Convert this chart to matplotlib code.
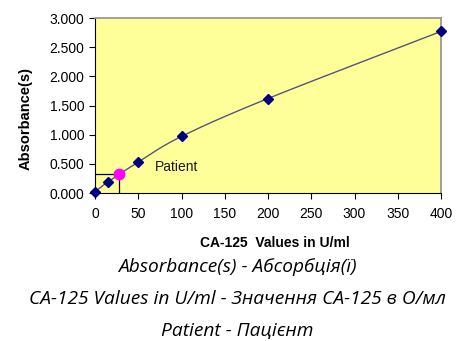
import numpy as np
import matplotlib.pyplot as plt

# standard curve
conc = [0, 15, 50, 100, 200, 400]
absorb = [0.02, 0.19, 0.53, 0.97, 1.62, 2.77]
patient_conc = 28
patient_abs = 0.32

x_ticks = [0, 50, 100, 150, 200, 250, 300, 350, 400]
y_ticks = [0.0, 0.5, 1.0, 1.5, 2.0, 2.5, 3.0]
footer = [
    "Absorbance(s) - Абсорбція(ї)",
    "CA-125 Values in U/ml - Значення CA-125 в О/мл",
    "Patient - Пацієнт",
]


def catmull_rom(xs, ys, n=30):
    """Smooth line through points, like Excel's smoothed line."""
    xs = np.asarray(xs, float)
    ys = np.asarray(ys, float)
    px = np.concatenate([[2 * xs[0] - xs[1]], xs, [2 * xs[-1] - xs[-2]]])
    py = np.concatenate([[2 * ys[0] - ys[1]], ys, [2 * ys[-1] - ys[-2]]])
    out_x, out_y = [], []
    t = np.linspace(0, 1, n)
    for i in range(1, len(px) - 2):
        for p, out in ((px, out_x), (py, out_y)):
            p0, p1, p2, p3 = p[i - 1], p[i], p[i + 1], p[i + 2]
            out.extend(0.5 * (2 * p1 + (-p0 + p2) * t
                              + (2 * p0 - 5 * p1 + 4 * p2 - p3) * t ** 2
                              + (-p0 + 3 * p1 - 3 * p2 + p3) * t ** 3))
    return np.array(out_x), np.array(out_y)


plt.rcParams['font.family'] = ['Liberation Sans', 'DejaVu Sans']
fig = plt.figure(figsize=(4.57, 3.41), dpi=100)
ax = fig.add_axes([95 / 457, 1 - 193 / 341, 346 / 457, 175 / 341])
ax.set_facecolor('#FFFF99')

sx, sy = catmull_rom(conc, absorb)
ax.plot(sx, sy, color='#55557A', lw=1.0, zorder=2)
ax.plot(conc, absorb, linestyle='none', marker='D', ms=5, color='#000080',
        zorder=3, clip_on=False)

ax.plot([0, patient_conc], [patient_abs, patient_abs], color='black', lw=0.9, zorder=2)
ax.plot([patient_conc, patient_conc], [0, patient_abs], color='black', lw=0.9, zorder=2)
ax.plot([patient_conc], [patient_abs], linestyle='none', marker='o', ms=7.5,
        color='#FF00FF', zorder=4)
ax.text(69, 0.44, 'Patient', fontsize=10, color='#1a1a1a', va='center', ha='left')

ax.set_xlim(0, 400)
ax.set_ylim(0, 3.0)
ax.set_xticks(x_ticks)
ax.set_yticks(y_ticks)
ax.set_yticklabels([f"{v:.3f}" for v in y_ticks])
ax.tick_params(axis='both', labelsize=10, direction='out', length=4, width=0.8)
ax.tick_params(axis='x', pad=6)
for side in ('top', 'right'):
    ax.spines[side].set_color('#999999')
    ax.spines[side].set_linewidth(1.3)
for side in ('left', 'bottom'):
    ax.spines[side].set_color('black')

fig.text(26 / 457, 1 - 119 / 341, 'Absorbance(s)', rotation=90, fontsize=10.5,
         fontweight='bold', ha='center', va='center')
fig.text(275 / 457, 1 - 243 / 341, 'CA-125  Values in U/ml', fontsize=10,
         fontweight='bold', ha='center', va='center')

for i, line in enumerate(footer):
    fig.text(237 / 457, 1 - (267 + i * 32) / 341, line, fontsize=13.8,
             family=['Open Sans', 'DejaVu Sans'], style='italic',
             ha='center', va='center')

fig.savefig('out.png', dpi=100)
